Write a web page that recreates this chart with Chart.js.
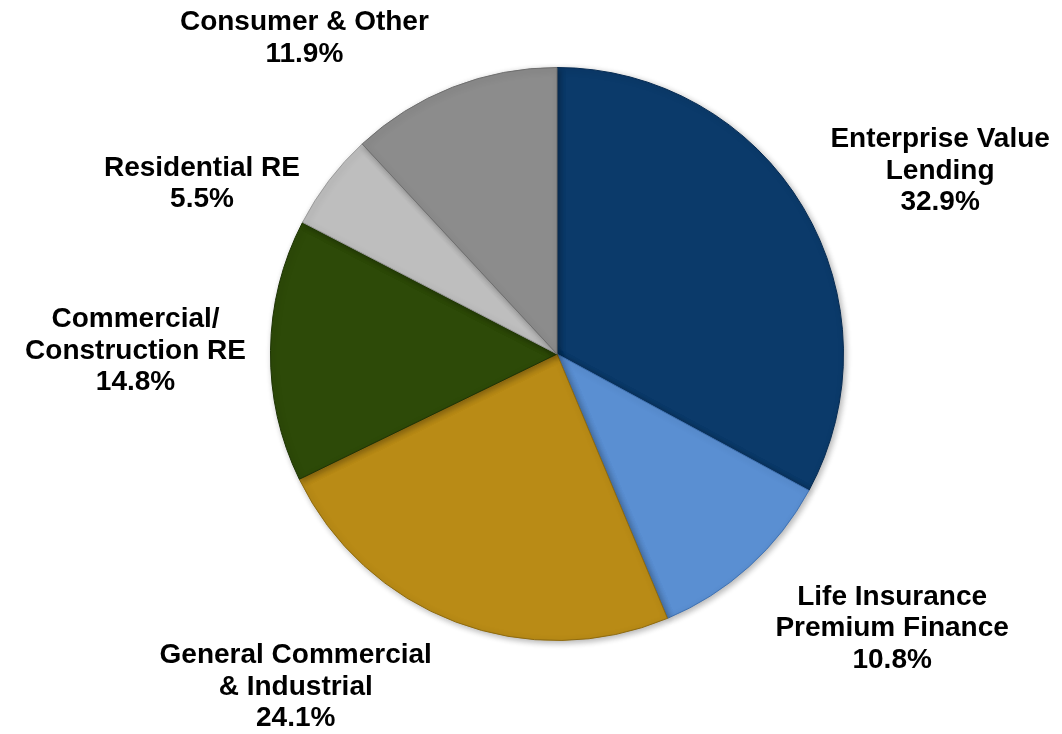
<!DOCTYPE html>
<html>
<head>
<meta charset="utf-8">
<script src="https://cdn.jsdelivr.net/npm/chart.js@4.4.1/dist/chart.umd.min.js"></script>
<style>
  html, body { margin: 0; padding: 0; background: #ffffff; }
  #wrap { width: 1062px; height: 734px; position: relative; }
</style>
</head>
<body>
<div id="wrap"><canvas id="c"></canvas></div>
<script>
// ---- data ----
const categories = [
  ["Enterprise Value", "Lending"],
  ["Life Insurance", "Premium Finance"],
  ["General Commercial", "& Industrial"],
  ["Commercial/", "Construction RE"],
  ["Residential RE"],
  ["Consumer & Other"]
];
const shares = [32.9, 10.8, 24.1, 14.8, 5.5, 11.9];
const percentLabels = ["32.9%", "10.8%", "24.1%", "14.8%", "5.5%", "11.9%"];

// ---- styling / layout (not data) ----
const sliceColors = ["#0b3a6a", "#5a8fd2", "#b98b16", "#2d4a08", "#bebebe", "#8c8c8c"];
const sliceBorders = ["#062b52", "#3f72b3", "#8e6a0e", "#1d3304", "#9a9a9a", "#6e6e6e"];
// label block offset from the slice's outer mid-point: [centre x offset, first baseline offset]
const labelOffsets = [[137, -60], [143, 38], [-160, 41], [-135, -23], [-127, -5], [-148, -57]];
const lineGap = 31.5;

const labelPlugin = {
  id: 'outsideLabels',
  afterDatasetsDraw(chart) {
    const ctx = chart.ctx;
    const meta = chart.getDatasetMeta(0);
    ctx.save();
    ctx.fillStyle = '#000000';
    ctx.font = 'bold 28px "Liberation Sans", Arial, sans-serif';
    ctx.textAlign = 'center';
    ctx.textBaseline = 'alphabetic';
    meta.data.forEach((arc, i) => {
      const p = arc.getProps(['x', 'y', 'startAngle', 'endAngle', 'outerRadius'], true);
      const mid = (p.startAngle + p.endAngle) / 2;
      const ex = p.x + Math.cos(mid) * p.outerRadius;
      const ey = p.y + Math.sin(mid) * p.outerRadius;
      const cx = ex + labelOffsets[i][0];
      let by = ey + labelOffsets[i][1];
      const lines = categories[i].concat([percentLabels[i]]);
      lines.forEach((ln, k) => {
        ctx.fillText(ln, cx, by + k * lineGap);
      });
    });
    ctx.restore();
  }
};

const shadowPlugin = {
  id: 'pieShadow',
  beforeDatasetsDraw(chart) {
    const ctx = chart.ctx;
    ctx.save();
    ctx.shadowColor = 'rgba(0,0,0,0.30)';
    ctx.shadowBlur = 6;
    ctx.shadowOffsetX = 2;
    ctx.shadowOffsetY = 2;
  },
  afterDatasetsDraw(chart) {
    chart.ctx.restore();
  }
};

new Chart(document.getElementById('c'), {
  type: 'pie',
  data: {
    labels: categories.map(c => c.join(' ')),
    datasets: [{
      data: shares,
      backgroundColor: sliceColors,
      borderColor: sliceBorders,
      borderWidth: 1
    }]
  },
  options: {
    responsive: true,
    maintainAspectRatio: false,
    animation: false,
    layout: { padding: { left: 270, right: 218, top: 67, bottom: 93 } },
    plugins: {
      legend: { display: false },
      tooltip: { enabled: false }
    }
  },
  plugins: [shadowPlugin, labelPlugin]
});
</script>
</body>
</html>
